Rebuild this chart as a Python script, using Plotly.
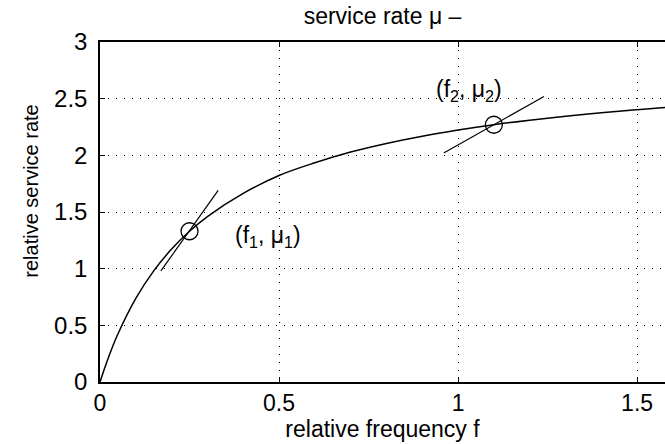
import plotly.graph_objects as go

# relative frequency f and relative service rate mu along the curve
freq = [0.0, 0.01, 0.02, 0.03, 0.05, 0.1, 0.15, 0.2, 0.25, 0.3, 0.4, 0.5, 0.6,
        0.7, 0.8, 0.9, 1.0, 1.1, 1.2, 1.3, 1.4, 1.5, 1.6]
rate = [0.0, 0.095, 0.186, 0.270, 0.423, 0.737, 0.980, 1.173, 1.330, 1.460,
        1.664, 1.822, 1.934, 2.029, 2.105, 2.169, 2.223, 2.270, 2.310, 2.345,
        2.375, 2.403, 2.427]

# operating points
pt_f = [0.25, 1.10]
pt_mu = [1.33, 2.27]
pt_labels = ["(f<sub>1</sub>, \u03bc<sub>1</sub>)", "(f<sub>2</sub>, \u03bc<sub>2</sub>)"]
label_f = [0.47, 1.03]
label_mu = [1.28, 2.57]

# straight segments through the operating points
seg1_f = [0.17, 0.33]
seg1_mu = [0.98, 1.69]
seg2_f = [0.96, 1.24]
seg2_mu = [2.02, 2.52]

x_ticks = [0, 0.5, 1, 1.5]
y_ticks = [0, 0.5, 1, 1.5, 2, 2.5, 3]

FONT = "Liberation Sans, Arial, Helvetica, sans-serif"

fig = go.Figure()
fig.add_trace(go.Scatter(x=freq, y=rate, mode="lines", line=dict(color="black", width=1.5, shape="spline"),
                         hoverinfo="skip"))
for sx, sy in ((seg1_f, seg1_mu), (seg2_f, seg2_mu)):
    fig.add_trace(go.Scatter(x=sx, y=sy, mode="lines", line=dict(color="black", width=1.2),
                             hoverinfo="skip"))
fig.add_trace(go.Scatter(x=pt_f, y=pt_mu, mode="markers",
                         marker=dict(symbol="circle-open", size=17, color="black", line=dict(width=1.3)),
                         hoverinfo="skip"))

for lf, lm, txt in zip(label_f, label_mu, pt_labels):
    fig.add_annotation(x=lf, y=lm, text=txt, showarrow=False, xanchor="center", yanchor="middle",
                       font=dict(family=FONT, size=23, color="black"))

# y axis label
fig.add_annotation(xref="paper", yref="paper", x=-0.122, y=0.56, text="relative service rate",
                   textangle=-90, showarrow=False, xanchor="center", yanchor="middle",
                   font=dict(family=FONT, size=20, color="black"))

fig.update_layout(
    width=665, height=444,
    margin=dict(l=100, r=0, t=42, b=62),
    paper_bgcolor="white", plot_bgcolor="white",
    showlegend=False,
    title=dict(text="service rate \u03bc \u2013", x=0.5, xref="paper", xanchor="center",
               y=1 - 16 / 444, yref="container", yanchor="middle",
               font=dict(family=FONT, size=23, color="black")),
    font=dict(family=FONT, color="black"),
)

fig.update_xaxes(
    range=[0, 1.578], tickvals=x_ticks, ticktext=[str(v) for v in x_ticks],
    showline=True, linecolor="black", linewidth=1.5, mirror="ticks",
    ticks="inside", ticklen=5, tickcolor="black",
    showgrid=True, gridcolor="black", gridwidth=1, griddash="1px,7px",
    zeroline=False, tickfont=dict(family=FONT, size=23, color="black"),
    ticklabelstandoff=0,
    title=dict(text="relative frequency f", font=dict(family=FONT, size=23, color="black"), standoff=2),
)
fig.update_yaxes(
    range=[0, 3], tickvals=y_ticks, ticktext=[str(v) for v in y_ticks],
    showline=True, linecolor="black", linewidth=1.5, mirror=False,
    ticks="inside", ticklen=5, tickcolor="black",
    showgrid=True, gridcolor="black", gridwidth=1, griddash="1px,7px",
    zeroline=False, tickfont=dict(family=FONT, size=24, color="black"),
    ticklabelstandoff=6,
)

fig.write_html("out.html")
